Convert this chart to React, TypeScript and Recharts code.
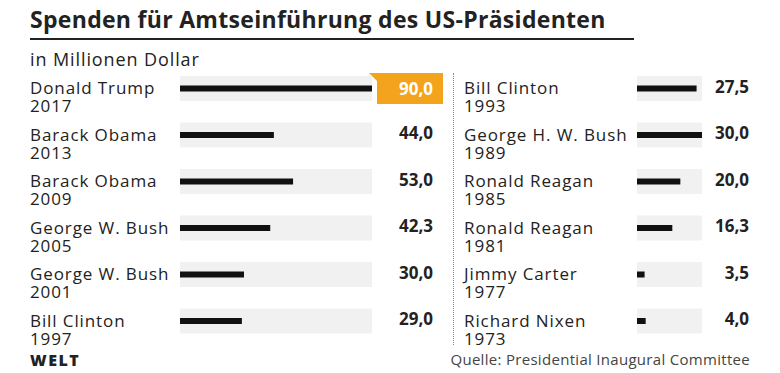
import React from "react";
import { BarChart, Bar, XAxis, YAxis, LabelList } from "recharts";

// --- data (Mio. Dollar) ---
const leftNames = ["Donald Trump", "Barack Obama", "Barack Obama", "George W. Bush", "George W. Bush", "Bill Clinton"];
const leftYears = ["2017", "2013", "2009", "2005", "2001", "1997"];
const leftValues = [90.0, 44.0, 53.0, 42.3, 30.0, 29.0];

const rightNames = ["Bill Clinton", "George H. W. Bush", "Ronald Reagan", "Ronald Reagan", "Jimmy Carter", "Richard Nixen"];
const rightYears = ["1993", "1989", "1985", "1981", "1977", "1973"];
const rightValues = [27.5, 30.0, 20.0, 16.3, 3.5, 4.0];

const leftData = leftNames.map((name, i) => ({ name, year: leftYears[i], value: leftValues[i] }));
const rightData = rightNames.map((name, i) => ({ name, year: rightYears[i], value: rightValues[i] }));

const FONT = "'Open Sans', sans-serif";
const TEXT = "#222";
const ORANGE = "#f4a31c";
const TRACK = "#f1f1f1";

const fmt = (v: number) => v.toFixed(1).replace(".", ",");

// track (light gray) + thin black bar
const TrackBar = (props: any) => {
  const { x, y, width, height, background } = props;
  const cy = y + height / 2;
  return (
    <g>
      <rect x={background.x} y={cy - 12.5} width={background.width} height={25} fill={TRACK} />
      <rect x={x} y={cy - 3} width={Math.max(width, 0)} height={6} fill="#111" />
    </g>
  );
};

const NameTick = (labelX: number) => (props: any) => {
  const { y, payload, index } = props;
  const data = props.data;
  return (
    <g fontSize={17} fontFamily={FONT} fill={TEXT} letterSpacing={0.9}>
      <text x={labelX} y={y + 6}>{payload.value}</text>
      <text x={labelX} y={y + 24}>{data[index].year}</text>
    </g>
  );
};

const ValueLabel = (rightX: number, highlightMax: boolean, max: number) => (props: any) => {
  const { y, height, value } = props;
  const cy = y + height / 2;
  if (highlightMax && value === max) {
    const top = cy - 15.5;
    const bot = cy + 15.5;
    const l = rightX - 56;
    return (
      <g>
        <polygon
          points={`${l - 8},${top} ${rightX + 10},${top} ${rightX + 10},${bot} ${l},${bot} ${l},${top + 8}`}
          fill={ORANGE}
        />
        <text x={rightX} y={cy + 6} textAnchor="end" fill="#fff" fontSize={17} fontWeight={700} fontFamily={FONT}>
          {fmt(value)}
        </text>
      </g>
    );
  }
  return (
    <text x={rightX} y={cy + 4} textAnchor="end" fill={TEXT} fontSize={17} fontWeight={700} fontFamily={FONT}>
      {fmt(value)}
    </text>
  );
};

const Column = ({ data, max, width, axisWidth, labelX, valueX, plotRight, highlight }: any) => (
  <BarChart
    width={width}
    height={373}
    data={data}
    layout="vertical"
    margin={{ top: 65, bottom: 29, left: 0, right: plotRight }}
    barCategoryGap={0}
  >
    <XAxis type="number" domain={[0, max]} hide />
    <YAxis
      type="category"
      dataKey="name"
      width={axisWidth}
      axisLine={false}
      tickLine={false}
      interval={0}
      tick={(p: any) => NameTick(labelX)({ ...p, data })}
    />
    <Bar dataKey="value" shape={<TrackBar />} background={{ fill: "transparent" }} isAnimationActive={false}>
      <LabelList dataKey="value" content={ValueLabel(valueX, highlight, max)} />
    </Bar>
  </BarChart>
);

export default function App() {
  return (
    <div style={{ position: "absolute", left: 0, top: 0, width: 780, height: 373, background: "#fff", fontFamily: FONT, color: TEXT }}>
      <div style={{ position: "absolute", left: 30, top: 3, fontSize: 23, fontWeight: 700, letterSpacing: 0.3, whiteSpace: "nowrap" }}>
        Spenden für Amtseinführung des US-Präsidenten
      </div>
      <div style={{ position: "absolute", left: 30, top: 38, width: 604, height: 2, background: "#222" }} />
      <div style={{ position: "absolute", left: 30, top: 47, fontSize: 18, letterSpacing: 0.9, whiteSpace: "nowrap" }}>
        in Millionen Dollar
      </div>

      <div style={{ position: "absolute", left: 0, top: 0 }}>
        <Column data={leftData} max={90} width={452} axisWidth={180} labelX={30} valueX={433} plotRight={80} highlight />
      </div>

      <div style={{ position: "absolute", left: 453, top: 73, height: 272, borderLeft: "1.5px dotted #888" }} />

      <div style={{ position: "absolute", left: 452, top: 0 }}>
        <Column data={rightData} max={30} width={328} axisWidth={185} labelX={12} valueX={297} plotRight={78} highlight={false} />
      </div>

      <div style={{ position: "absolute", left: 30, top: 349, fontSize: 16, fontWeight: 800, letterSpacing: 1.5 }}>WELT</div>
      <div style={{ position: "absolute", right: 30, top: 349, fontSize: 15, letterSpacing: 0.3, color: "#444", whiteSpace: "nowrap" }}>
        Quelle: Presidential Inaugural Committee
      </div>
    </div>
  );
}
